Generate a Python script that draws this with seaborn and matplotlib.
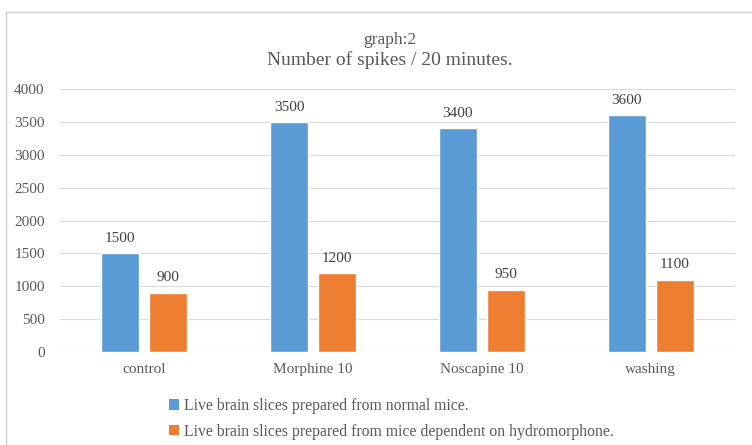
import matplotlib
matplotlib.use("Agg")
import matplotlib.pyplot as plt
import seaborn as sns
import pandas as pd
from matplotlib.patches import Rectangle, Patch

categories = ["control", "Morphine 10", "Noscapine 10", "washing"]
normal_values = [1500, 3500, 3400, 3600]
dependent_values = [900, 1200, 950, 1100]
series_names = ["Live brain slices prepared from normal mice.",
                "Live brain slices prepared from mice dependent on hydromorphone."]
yticks = [0, 500, 1000, 1500, 2000, 2500, 3000, 3500, 4000]

df = pd.DataFrame({
    "category": categories * 2,
    "value": normal_values + dependent_values,
    "series": [series_names[0]] * 4 + [series_names[1]] * 4,
})

sns.set_theme(style="white")
plt.rcParams["font.family"] = ["Liberation Serif", "DejaVu Serif"]

colors = ["#5B9BD5", "#ED7D31"]
fig = plt.figure(figsize=(7.52, 4.45), dpi=100)
ax = fig.add_axes([60/752, 1 - 352/445, 675/752, (352-89)/445])

sns.barplot(data=df, x="category", y="value", hue="series", order=categories,
            hue_order=series_names, palette=colors, width=0.57, gap=0.21,
            saturation=1, ax=ax, legend=False)

ax.set_ylim(0, 4000)
ax.set_xlim(-0.5, 3.5)
ax.set_yticks(yticks)
ax.set_yticklabels([str(t) for t in yticks])
ax.yaxis.grid(True, color="#d9d9d9", linewidth=0.8)
ax.set_axisbelow(True)
for s in ax.spines.values():
    s.set_visible(False)
ax.axhline(0, color="#d9d9d9", linewidth=0.8, zorder=0)
ax.set_xlabel("")
ax.set_ylabel("")
ax.tick_params(axis="both", length=0, labelsize=11, labelcolor="#595959")
ax.tick_params(axis="y", pad=11)
ax.tick_params(axis="x", pad=8)

for cont in ax.containers:
    ax.bar_label(cont, fmt="%d", padding=6, fontsize=11, color="#404040")

fig.text(390/752, 1 - 40/445, "graph:2", ha="center", va="center",
         fontsize=12.5, color="#595959")
fig.text(390/752, 1 - 60/445, "Number of spikes / 20 minutes.", ha="center",
         va="center", fontsize=14, color="#595959")

handles = [Patch(facecolor=c, edgecolor="none") for c in colors]
fig.legend(handles, series_names, loc="upper left",
           bbox_to_anchor=(155/752, 1 - 384/445), frameon=False, ncol=1,
           fontsize=11.3, handlelength=0.65, handleheight=0.65, handletextpad=0.3,
           labelspacing=0.6, labelcolor="#595959")

fig.patches.append(Rectangle((6/752, -0.1), 1.2, 1 - 12/445 + 0.1,
                             transform=fig.transFigure, fill=False,
                             edgecolor="#d0d0d0", linewidth=1.0))

fig.savefig("out.png", dpi=100)
